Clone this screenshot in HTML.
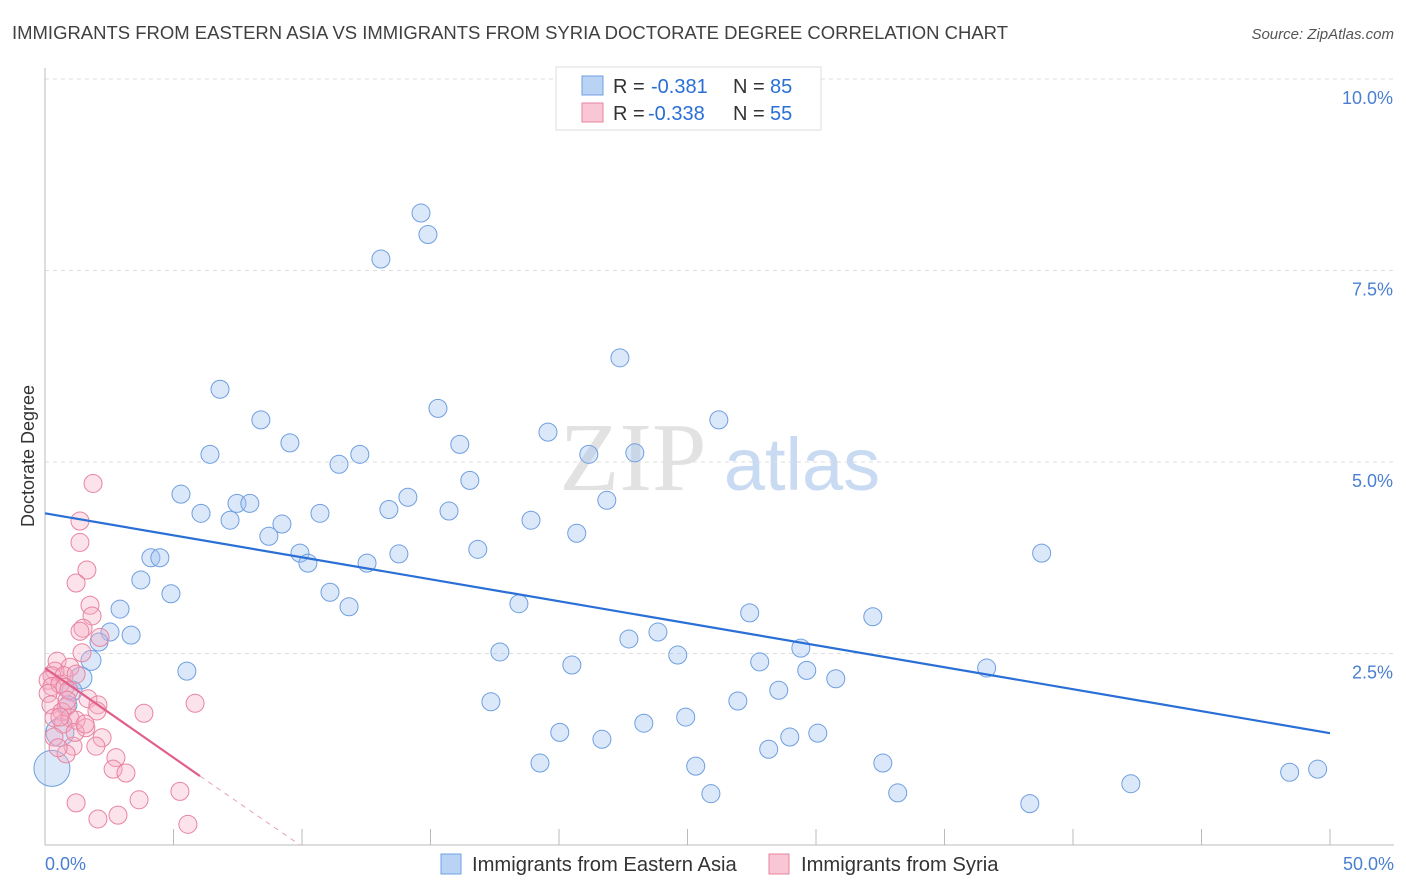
<!DOCTYPE html>
<html><head><meta charset="utf-8">
<style>
body{margin:0;background:#fff;font-family:"Liberation Sans",sans-serif;}
#wrap{position:relative;width:1406px;height:892px;overflow:hidden;}
</style></head>
<body>
<div id="wrap">
<svg id="chart" width="1406" height="892" font-family="Liberation Sans, sans-serif">
  <text x="12" y="39" font-size="18" fill="#404040" textLength="996" lengthAdjust="spacingAndGlyphs">IMMIGRANTS FROM EASTERN ASIA VS IMMIGRANTS FROM SYRIA DOCTORATE DEGREE CORRELATION CHART</text>
  <text x="1394" y="39" font-size="15" fill="#555" font-style="italic" text-anchor="end">Source: ZipAtlas.com</text>
  <text x="34" y="456" font-size="18" fill="#333" transform="rotate(-90 34 456)" text-anchor="middle">Doctorate Degree</text>
  <g>
    <text x="633" y="490" font-size="98" fill="#e2e2e2" style="font-family:'Liberation Serif',serif" text-anchor="middle">ZIP</text>
    <text x="802" y="490" font-size="74" fill="#c9dbf2" text-anchor="middle">atlas</text>
  </g>
  <g id="grid"></g>
  <g id="marks"></g>
  <g id="legend">
    <rect x="556" y="67" width="265" height="63" fill="#fff" stroke="#ddd"/>
    <rect x="582" y="76" width="21" height="19" fill="#b9d3f5" stroke="#6f9fe0"/>
    <text y="93" font-size="20" fill="#333"><tspan x="613">R =</tspan><tspan x="651" fill="#2a6fd6">-0.381</tspan><tspan x="733">N =</tspan><tspan x="770" fill="#2a6fd6">85</tspan></text>
    <rect x="582" y="103" width="21" height="19" fill="#f8c6d5" stroke="#e8849f"/>
    <text y="120" font-size="20" fill="#333"><tspan x="613">R =</tspan><tspan x="648" fill="#2a6fd6">-0.338</tspan><tspan x="733">N =</tspan><tspan x="770" fill="#2a6fd6">55</tspan></text>
  </g>
  <g>
    <rect x="441" y="854" width="20" height="20" fill="#b9d3f5" stroke="#6f9fe0"/>
    <text x="472" y="871" font-size="20.2" fill="#333">Immigrants from Eastern Asia</text>
    <rect x="769" y="854" width="20" height="20" fill="#f8c6d5" stroke="#e8849f"/>
    <text x="801" y="871" font-size="20.2" fill="#333">Immigrants from Syria</text>
  </g>
</svg>
</div>
<script>
const yTicks=[2.5,5.0,7.5,10.0];
const yTickLabels=["2.5%","5.0%","7.5%","10.0%"];
const xTickLabels=["0.0%","50.0%"];
const blueX=[14.63,14.90,13.07,22.37,6.81,8.40,15.29,26.22,19.57,9.53,16.14,6.42,12.25,22.95,21.16,11.44,16.53,5.29,14.12,7.47,7.97,13.38,21.86,6.07,10.70,15.72,7.20,9.22,18.91,8.71,20.69,9.92,13.77,16.84,38.78,4.12,4.47,10.23,12.53,3.73,4.90,11.09,2.92,11.83,18.44,27.42,32.21,2.53,3.35,2.10,23.85,22.72,1.79,17.70,24.62,29.41,27.81,20.50,5.52,29.64,36.64,30.77,1.40,28.55,17.35,26.96,1.05,24.93,23.30,0.89,20.03,21.67,30.07,28.98,28.16,0.58,19.26,25.32,32.60,48.43,49.52,42.25,25.91,33.18,38.32,0.27];
const blueY=[8.25,7.97,7.65,6.36,5.95,5.55,5.70,5.55,5.39,5.25,5.23,5.10,5.10,5.12,5.10,4.97,4.76,4.58,4.54,4.46,4.46,4.38,4.50,4.33,4.33,4.36,4.24,4.19,4.24,4.03,4.07,3.81,3.80,3.86,3.81,3.75,3.75,3.68,3.68,3.46,3.28,3.30,3.08,3.11,3.15,3.03,2.98,2.78,2.74,2.65,2.78,2.69,2.41,2.52,2.48,2.57,2.39,2.35,2.27,2.28,2.31,2.17,2.18,2.02,1.87,1.88,2.01,1.67,1.59,1.83,1.47,1.38,1.46,1.41,1.25,1.47,1.07,1.03,1.07,0.95,0.99,0.80,0.67,0.68,0.54,1.00];
const blueR=[9,9,9,9,9,9,9,9,9,9,9,9,9,9,9,9,9,9,9,9,9,9,9,9,9,9,9,9,9,9,9,9,9,9,9,9,9,9,9,9,9,9,9,9,9,9,9,9,9,9,9,9,10,9,9,9,9,9,9,9,9,9,11,9,9,9,10,9,9,9,9,9,9,9,9,14,9,9,9,9,9,9,9,9,9,18];
const pinkX=[1.87,1.36,1.36,1.63,1.21,1.75,1.83,1.48,1.36,2.14,1.44,0.47,0.97,0.39,0.27,0.74,1.21,0.12,0.27,0.58,0.78,0.12,0.93,1.67,0.23,0.82,0.66,2.06,5.84,3.85,2.02,0.35,0.97,1.21,0.70,1.59,2.22,1.09,0.82,2.76,2.65,3.15,1.98,1.17,5.25,3.66,1.21,2.84,2.06,5.56,0.35,0.58,1.56,0.51,0.86];
const pinkY=[4.72,4.23,3.95,3.59,3.42,3.13,2.99,2.83,2.79,2.71,2.51,2.40,2.32,2.27,2.21,2.21,2.23,2.15,2.07,2.10,2.06,1.98,2.02,1.91,1.83,1.80,1.74,1.83,1.85,1.72,1.75,1.66,1.66,1.63,1.58,1.53,1.40,1.29,1.19,1.14,0.99,0.94,1.29,1.47,0.70,0.59,0.55,0.39,0.34,0.27,1.41,1.67,1.58,1.27,1.89];
const blueTrend=[4.33,1.46];
const pinkTrend=[2.31,0.90];
const pinkTrendEndX=6.03;
const pinkDashEndX=9.92;

const X0=45,X1=1330,Y0=845,YTOP=79;
const sx=v=>X0+(v/50)*(X1-X0);
const sy=v=>Y0-(v/10)*(Y0-YTOP);
const NS="http://www.w3.org/2000/svg";
function mk(tag,attrs,parent){const e=document.createElementNS(NS,tag);for(const k in attrs)e.setAttribute(k,attrs[k]);parent.appendChild(e);return e;}
const grid=document.getElementById('grid'),marks=document.getElementById('marks');
yTicks.forEach((t,i)=>{
  const g=mk('line',{x1:X0,x2:1394,y1:sy(t),y2:sy(t),stroke:'#ddd','stroke-dasharray':'4 4'},grid);
  
  
  const l=mk('text',{x:1393,y:sy(t)+25,'font-size':18,fill:'#4a7fd0','text-anchor':'end'},grid);
  l.textContent=yTickLabels[i];
  
  
});
const ax=mk('line',{x1:X0,x2:X0,y1:68,y2:845,stroke:'#bbb'},grid);


const bx=mk('line',{x1:X0,x2:1394,y1:845,y2:845,stroke:'#bbb'},grid);


for(let i=1;i<=10;i++){
  const t=mk('line',{x1:sx(i*5),x2:sx(i*5),y1:829,y2:845,stroke:'#bbb'},grid);
  
  
}
[[0,'start',X0],[50,'end',1394]].forEach((d,i)=>{
  const l=mk('text',{x:d[2],y:870,'font-size':18,fill:'#4a7fd0','text-anchor':d[1]},grid);
  l.textContent=xTickLabels[i];
  
  
});
blueX.forEach((x,i)=>{
  const c=mk('circle',{cx:sx(x),cy:sy(blueY[i]),r:blueR[i]||9,fill:'rgba(160,195,240,0.38)',stroke:'#6f9fe0','stroke-width':1},marks);
  
  
});
pinkX.forEach((x,i)=>{
  const c=mk('circle',{cx:sx(x),cy:sy(pinkY[i]),r:9,fill:'rgba(245,170,195,0.34)',stroke:'#e8849f','stroke-width':1},marks);
  
  
});
const bl=mk('line',{x1:sx(0),y1:sy(blueTrend[0]),x2:sx(50),y2:sy(blueTrend[1]),stroke:'#2a6fd6','stroke-width':2.2},marks);


const pl=mk('line',{x1:sx(0),y1:sy(pinkTrend[0]),x2:sx(pinkTrendEndX),y2:sy(pinkTrend[1]),stroke:'#e0608a','stroke-width':2.2},marks);


const pd=mk('line',{x1:sx(pinkTrendEndX),y1:sy(pinkTrend[1]),x2:sx(pinkDashEndX),y2:sy(0),stroke:'#e8a0b5','stroke-width':1,'stroke-dasharray':'5 5'},marks);


</script>
</body></html>
